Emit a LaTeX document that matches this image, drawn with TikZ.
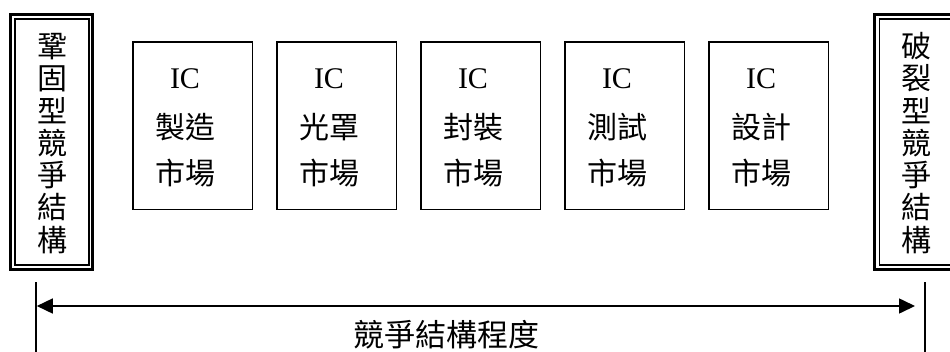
\documentclass[tikz,border=0pt]{standalone}
\usepackage{fontspec}
\setmainfont{Liberation Serif}
\newfontfamily\cjk{Noto Sans CJK TC}
\usetikzlibrary{arrows.meta}
\begin{document}
\begin{tikzpicture}[x=1pt,y=-1pt,
  mkt/.style={draw,line width=1.5pt,minimum width=119.5pt,minimum height=167.5pt,inner sep=0pt,outer sep=0pt},
  outerbox/.style={draw,line width=3pt,inner sep=0pt,outer sep=0pt},
  innerbox/.style={draw,line width=1.4pt,inner sep=0pt,outer sep=0pt},
  latn/.style={font=\fontsize{30}{30}\selectfont,inner sep=0pt,anchor=base},
  han/.style={font=\fontsize{30}{30}\selectfont\cjk,inner sep=0pt,anchor=base},
  lbl/.style={font=\fontsize{31}{31}\selectfont\cjk,inner sep=0pt,anchor=base},
  tick/.style={line width=1.5pt},
  dblarrow/.style={line width=1.6pt,{Triangle[length=16pt,width=15pt]}-{Triangle[length=16pt,width=15pt]}}
]
\useasboundingbox (0,0) rectangle (950,351);
% side double boxes
\node[outerbox,minimum width=82pt,minimum height=255pt] (LO) at (51.5,142) {};
\node[innerbox,minimum width=74pt,minimum height=246pt] (LI) at (52,142) {};
\node[outerbox,minimum width=83pt,minimum height=255pt] (RO) at (916,142) {};
\node[innerbox,minimum width=74pt,minimum height=246pt] (RI) at (916.5,142) {};
\foreach \c [count=\i] in {鞏,固,型,競,爭,結,構}
  \node[han] (L\i) at (52.5,{57.5+(\i-1)*32.25}) {\c};
\foreach \c [count=\i] in {破,裂,型,競,爭,結,構}
  \node[han] (R\i) at (916,{57.5+(\i-1)*32.25}) {\c};
% market boxes
\foreach \x/\a/\n in {192.5/製造/1,336.5/光罩/2,480.5/封裝/3,624.5/測試/4,768.5/設計/5}{
  \node[mkt] (b\n) at (\x,125.5) {};
  \node[latn] (ic\n) at (\x-7.5,88) {IC};
  \node[han] (p\n) at (\x-7.5,138.5) {\a};
  \node[han] (m\n) at (\x-7.5,184.5) {市場};
}
% axis
\coordinate (tl1) at (36,282);
\coordinate (tl2) at (36,352);
\coordinate (tr1) at (925,282);
\coordinate (tr2) at (925,352);
\coordinate (aL) at (36.8,306);
\coordinate (aR) at (915,306);
\draw[tick] (tl1) -- (tl2);
\draw[tick] (tr1) -- (tr2);
\draw[dblarrow] (aL) -- (aR);
\node[lbl] (axis) at (446,346) {競爭結構程度};
\end{tikzpicture}
\end{document}
